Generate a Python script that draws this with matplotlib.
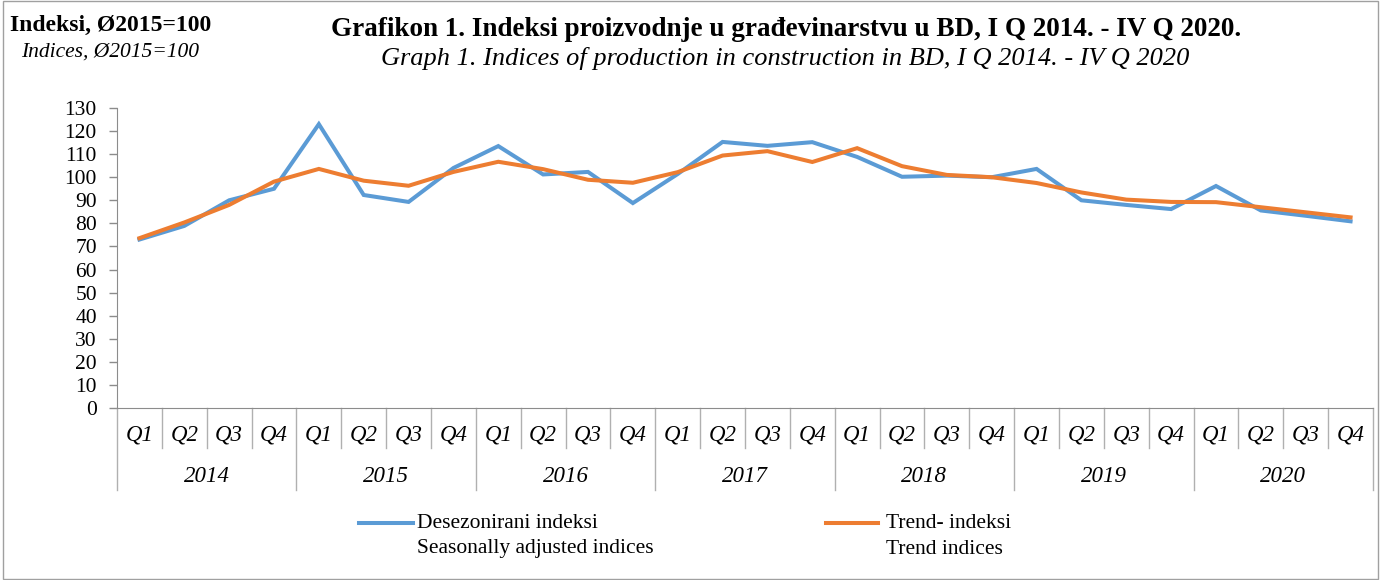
import numpy as np
import matplotlib
matplotlib.use('Agg')
import matplotlib.pyplot as plt
from matplotlib.transforms import blended_transform_factory
from matplotlib.lines import Line2D
from matplotlib.patches import Rectangle

years = ['2014', '2015', '2016', '2017', '2018', '2019', '2020']
quarters = ['Q1', 'Q2', 'Q3', 'Q4']

# desezonirani indeksi (seasonally adjusted)
seasonal = [73.0, 78.9, 90.0, 95.0,
            123.0, 92.3, 89.3, 104.0,
            113.5, 101.2, 102.3, 88.8,
            101.4, 115.3, 113.6, 115.2,
            108.8, 100.2, 100.7, 100.0,
            103.6, 90.0, 88.0, 86.2,
            96.2, 85.6, 83.3, 80.9]

# trend indeksi
trend = [73.6, 80.4, 88.0, 98.1,
         103.6, 98.5, 96.3, 102.3,
         106.7, 103.5, 98.9, 97.6,
         102.2, 109.4, 111.3, 106.6,
         112.6, 104.8, 101.0, 100.0,
         97.5, 93.4, 90.3, 89.3,
         89.2, 87.0, 84.8, 82.6]

blue = '#5B9BD5'
orange = '#ED7D31'
grey = '#8C8C8C'
sepgrey = '#B0B0B0'

plt.rcParams['font.family'] = ['Liberation Serif', 'DejaVu Serif']

fig = plt.figure(figsize=[13.81, 5.80], dpi=100)
ax = fig.add_axes([117/1381, 172/580, 1256/1381, 300/580])

x = np.arange(len(seasonal))
l1, = ax.plot(x, seasonal, color=blue, linewidth=2.9, solid_joinstyle='miter')
l2, = ax.plot(x, trend, color=orange, linewidth=2.9, solid_joinstyle='miter')

ax.set_xlim(-0.5, len(x) - 0.5)
ax.set_ylim(0, 130)
ax.set_yticks(np.arange(0, 131, 10))
ax.tick_params(axis='y', direction='out', length=5.5, width=1, color=grey,
               labelsize=15.5, pad=9)
ax.set_xticks([])
for s in ['top', 'right']:
    ax.spines[s].set_visible(False)
ax.spines['left'].set_color(grey)
ax.spines['bottom'].set_color(grey)

# two level category axis
tr = blended_transform_factory(ax.transData, ax.transAxes)
for b in range(len(x) + 1):
    bottom = -0.273 if b % 4 == 0 else -0.133
    ax.add_line(Line2D([b - 0.5, b - 0.5], [0, bottom], transform=tr,
                       color=sepgrey, linewidth=1, clip_on=False))
for i in range(len(x)):
    ax.text(i, -0.09, quarters[i % 4], transform=tr, ha='center', va='center',
            fontsize=16.5, style='italic')
for j, yr in enumerate(years):
    ax.text(4*j + 1.5, -0.227, yr, transform=tr, ha='center', va='center',
            fontsize=16.5, style='italic')

# titles
fig.text(786/1381, 1 - 29/580,
         'Grafikon 1. Indeksi proizvodnje u građevinarstvu u BD, I Q 2014. - IV Q 2020.',
         ha='center', va='center', fontsize=19.5, fontweight='bold')
fig.text(785/1381, 1 - 59/580,
         'Graph 1. Indices of production in construction in BD, I Q 2014. - IV Q 2020',
         ha='center', va='center', fontsize=19, style='italic')
fig.text(111/1381, 1 - 25/580, 'Indeksi, Ø2015=100', ha='center', va='center',
         fontsize=17, fontweight='bold')
fig.text(110/1381, 1 - 52/580, 'Indices, Ø2015=100', ha='center', va='center',
         fontsize=15.5, style='italic')

# legend
for (x0, x1, tx, col, lab1, lab2) in [
        (359, 413, 417, blue, 'Desezonirani indeksi', 'Seasonally adjusted indices'),
        (826, 878, 886, orange, 'Trend- indeksi', 'Trend indices')]:
    fig.add_artist(Line2D([x0/1381, x1/1381], [1 - 523/580, 1 - 523/580],
                          color=col, linewidth=2.9, transform=fig.transFigure))
    fig.text(tx/1381, 1 - 523/580, lab1, ha='left', va='center', fontsize=15.5)
    fig.text(tx/1381, 1 - 549/580, lab2, ha='left', va='center', fontsize=15.5)

fig.add_artist(Rectangle((0.002, 0.002), 0.996, 0.996, transform=fig.transFigure,
                         fill=False, edgecolor='#A0A0A0', linewidth=1))

plt.savefig('out.png', dpi=100)
